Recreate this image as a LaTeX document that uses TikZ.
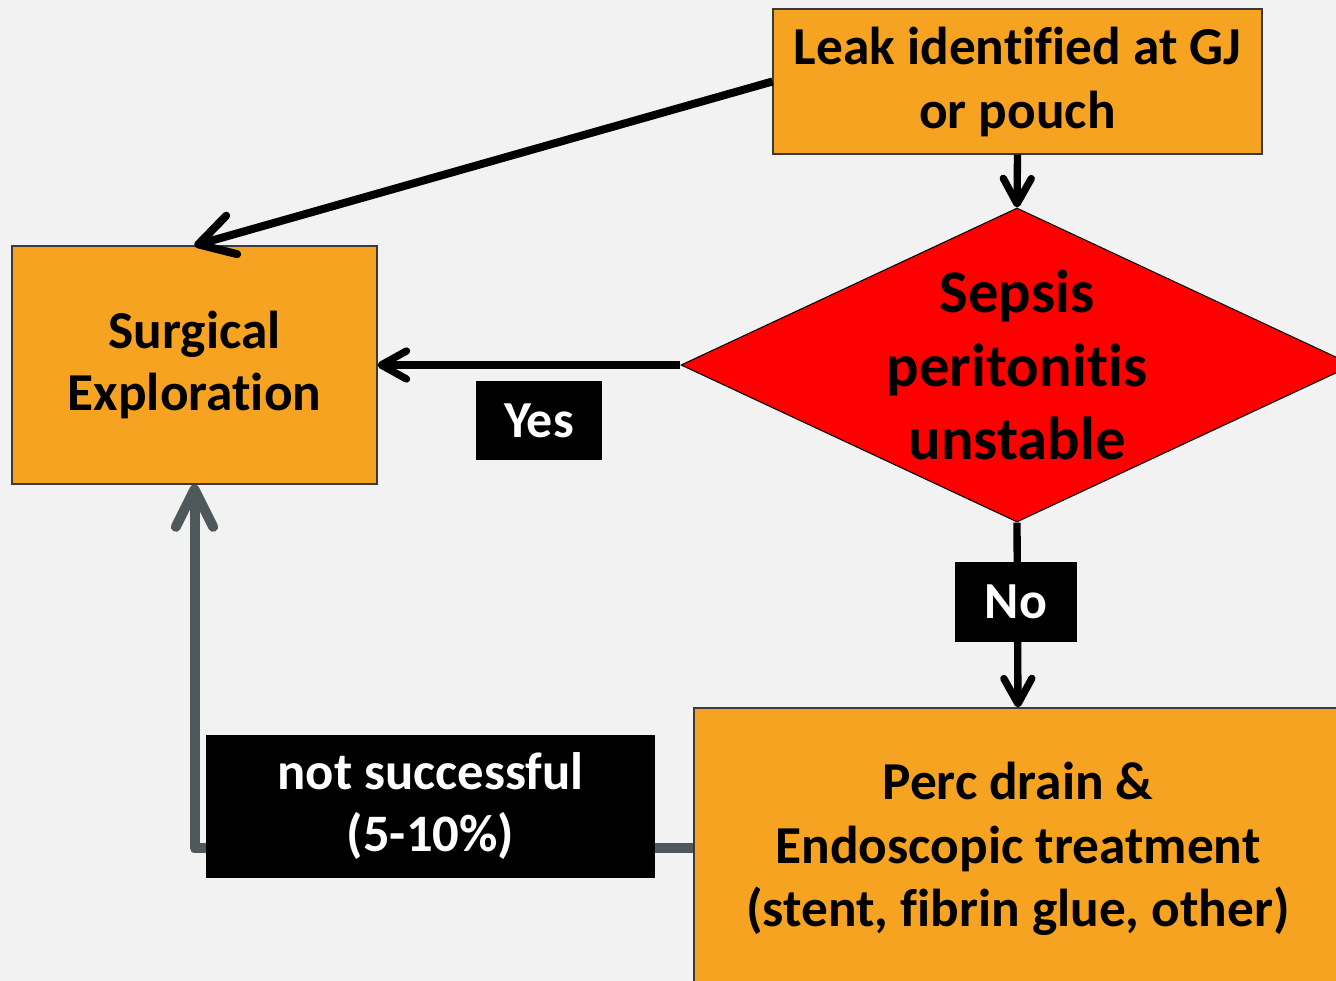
\documentclass[tikz,border=0pt]{standalone}
\usepackage{fontspec}
\setmainfont{Carlito}[Ligatures=CommonOff]
\usetikzlibrary{shapes.geometric, arrows.meta}
\definecolor{bgcol}{HTML}{F2F2F2}
\definecolor{boxfill}{HTML}{F5A320}
\definecolor{boxline}{HTML}{3A3A3A}
\definecolor{loopcol}{HTML}{4F595B}
\begin{document}
\begin{tikzpicture}[x=0.75pt, y=-0.75pt,
	box/.style={draw=boxline, line width=0.8pt, fill=boxfill, align=center, inner sep=0pt},
	tag/.style={fill=black, text=white, align=center, inner sep=0pt},
	link/.style={line width=5.5pt, -{Straight Barb[length=19pt, width=21pt, round]}}]
	% background and frame
	\fill[bgcol] (0,0) rectangle (1336,981);
	\useasboundingbox (0,0) rectangle (1336,981);
	\clip (0,0) rectangle (1336,981);
	
	% boxes
	\node[box, minimum width=366.75pt, minimum height=108.75pt,
		font=\bfseries\fontsize{40}{48}\selectfont] (leak) at (1017.5,81.5)
		{Leak identified at GJ\\or pouch};
	\node[diamond, draw=black, line width=0.8pt, fill=red, inner sep=0pt,
		minimum width=504pt, minimum height=235.5pt] (sepsis) at (1017,365) {};
	\node[align=center, inner sep=0pt,
		font=\bfseries\fontsize{45.5}{55}\selectfont] (sepsistext) at (sepsis.center)
		{Sepsis\\peritonitis\\unstable};
	\node[box, minimum width=273.75pt, minimum height=178.5pt,
		font=\bfseries\fontsize{40}{46.5}\selectfont] (surg) at (194.5,365)
		{Surgical\\Exploration};
	\node[box, minimum width=486pt, minimum height=211.5pt,
		font=\bfseries\fontsize{40}{47.5}\selectfont] (perc) at (1018,849)
		{Perc drain \&\\Endoscopic treatment\\(stent, fibrin glue, other)};
	
	% arrows
	\draw[link, -{Straight Barb[length=26pt, width=30pt, round]}, line width=6pt] (leak.west) -- (surg.north);
	\draw[link] (leak.south) -- (sepsis.north);
	\draw[link] (sepsis.west) -- (surg.east);
	\draw[link] (sepsis.south) -- (perc.north);
	\draw[loopcol, line width=7.5pt, line join=round,
		-{Straight Barb[length=28pt, width=28pt, round]}] (perc.west |- 0,848) -| (surg.south);
	
	% labels
	\node[tag, minimum width=94.5pt, minimum height=59.25pt,
		font=\bfseries\fontsize{39}{46}\selectfont] (yes) at (539,420.5) {Yes};
	\node[tag, minimum width=91.5pt, minimum height=60pt,
		font=\bfseries\fontsize{39}{46}\selectfont] (no) at (1016,602) {No};
	\node[tag, minimum width=336.75pt, minimum height=107.25pt,
		font=\bfseries\fontsize{39.5}{46.5}\selectfont] (fail) at (430.5,806.5)
		{not successful\\(5-10\%)};
\end{tikzpicture}
\end{document}
